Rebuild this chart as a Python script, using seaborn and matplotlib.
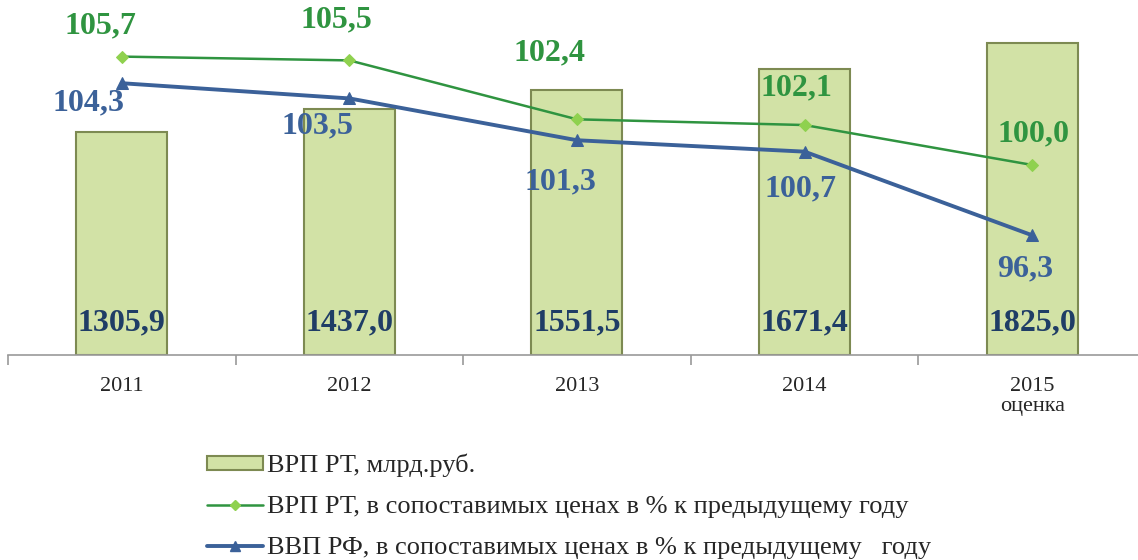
import numpy as np
import pandas as pd
import matplotlib.pyplot as plt
import seaborn as sns
from matplotlib.patches import Patch
from matplotlib.lines import Line2D

sns.set_theme(style="white")
plt.rcParams["font.family"] = ["Liberation Serif", "DejaVu Serif"]

# data
years = ["2011", "2012", "2013", "2014", "2015\nоценка"]
vrp_rt = [1305.9, 1437.0, 1551.5, 1671.4, 1825.0]
vrp_rt_pct = [105.7, 105.5, 102.4, 102.1, 100.0]
vvp_rf_pct = [104.3, 103.5, 101.3, 100.7, 96.3]

bar_lbl = "ВРП РТ, млрд.руб."
green_lbl = "ВРП РТ, в сопоставимых ценах в % к предыдущему году"
blue_lbl = "ВВП РФ, в сопоставимых ценах в % к предыдущему   году"

# label offsets (points) for the line values
green_off = [(-15, 22), (-9, 29), (-20, 48), (-6, 27), (1, 22)]
blue_off = [(-24, -14), (-23, -20), (-12, -30), (-3, -27), (-5, -24)]

bar_col = "#d2e2a6"
bar_edge = "#7d8a52"
green = "#2f9440"
green_mk = "#8fd14f"
blue = "#3b6199"
navy = "#1f3d66"

df = pd.DataFrame({"year": years, "vrp": vrp_rt})

fig = plt.figure(figsize=(11.38, 5.6), dpi=100)
ax = fig.add_axes([0.007, 0.366, 1.0, 0.611])

sns.barplot(data=df, x="year", y="vrp", color=bar_col, width=0.4,
            edgecolor=bar_edge, linewidth=1.5, saturation=1, ax=ax)
ax.set_ylim(0, 2000)
ax.set_xlabel("")
ax.set_ylabel("")
ax.set_yticks([])
for s in ["top", "right", "left"]:
    ax.spines[s].set_visible(False)
ax.spines["bottom"].set_color("#9a9a9a")
ax.spines["bottom"].set_linewidth(1.2)
ax.tick_params(axis="x", which="major", length=0, pad=16, labelsize=16)
ax.set_xticks(np.arange(-0.5, 5, 1), minor=True)
ax.tick_params(axis="x", which="minor", length=7, color="#9a9a9a", width=1.2,
               direction="out", bottom=True)
for t in ax.get_xticklabels():
    t.set_linespacing(1.05)

for i, v in enumerate(vrp_rt):
    ax.text(i, 185, f"{v:.1f}".replace(".", ","), ha="center", va="center",
            fontsize=23, fontweight="bold", color=navy)

ax2 = ax.twinx()
xs = np.arange(len(years))
sns.lineplot(x=xs, y=vrp_rt_pct, color=green, linewidth=1.8, marker="D",
             markersize=6, markerfacecolor=green_mk, markeredgecolor=green_mk,
             ax=ax2)
sns.lineplot(x=xs, y=vvp_rf_pct, color=blue, linewidth=2.8, marker="^",
             markersize=8, markerfacecolor=blue, markeredgecolor=blue, ax=ax2)
ax2.set_ylim(90, 108)
ax2.set_yticks([])
ax2.set_ylabel("")
for s in ["top", "right", "left", "bottom"]:
    ax2.spines[s].set_visible(False)
ax.set_xlim(-0.5, 4.5)

for i, (v, off) in enumerate(zip(vrp_rt_pct, green_off)):
    ax2.annotate(f"{v:.1f}".replace(".", ","), (i, v), xytext=off,
                 textcoords="offset points", ha="center", va="center",
                 fontsize=23, fontweight="bold", color=green)
for i, (v, off) in enumerate(zip(vvp_rf_pct, blue_off)):
    ax2.annotate(f"{v:.1f}".replace(".", ","), (i, v), xytext=off,
                 textcoords="offset points", ha="center", va="center",
                 fontsize=23, fontweight="bold", color=blue)

handles = [
    Patch(facecolor=bar_col, edgecolor=bar_edge, linewidth=1.5),
    Line2D([], [], color=green, linewidth=1.8, marker="D", markersize=5,
           markerfacecolor=green_mk, markeredgecolor=green_mk),
    Line2D([], [], color=blue, linewidth=2.8, marker="^", markersize=7,
           markerfacecolor=blue, markeredgecolor=blue),
]
fig.legend(handles, [bar_lbl, green_lbl, blue_lbl], loc="upper left",
           bbox_to_anchor=(0.173, 0.209), frameon=False, fontsize=19,
           handlelength=2.1, handleheight=0.45, handletextpad=0.15,
           labelspacing=0.72, borderaxespad=0)

fig.savefig("out.png", dpi=100)
